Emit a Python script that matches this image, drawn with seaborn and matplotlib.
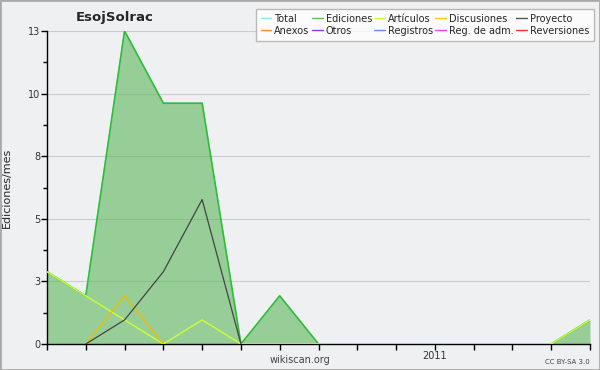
import numpy as np
import pandas as pd
import seaborn as sns
import matplotlib.pyplot as plt
from matplotlib.lines import Line2D

# monthly edits, Mar 2010 .. May 2011
months = list(range(15))
total = [3, 2, 13, 10, 10, 0, 2, 0, 0, 0, 0, 0, 0, 0, 1]
ediciones = [3, 2, 13, 10, 10, 0, 2, 0, 0, 0, 0, 0, 0, 0, 1]
articulos = [3, 2, 1, 0, 1, 0, 0, 0, 0, 0, 0, 0, 0, 0, 1]
discusiones = [np.nan, 0, 2, 0, np.nan, np.nan, np.nan, np.nan, np.nan, np.nan, np.nan, np.nan, np.nan, np.nan, np.nan]
proyecto = [np.nan, 0, 1, 3, 6, 0, np.nan, np.nan, np.nan, np.nan, np.nan, np.nan, np.nan, np.nan, np.nan]

yticks = [0, 2.6, 5.2, 7.8, 10.4, 13]
ytick_labels = ["0", "3", "5", "8", "10", "13"]

legend_names = ["Total", "Ediciones", "Artículos", "Discusiones", "Proyecto",
                "Anexos", "Otros", "Registros", "Reg. de adm.", "Reversiones"]
legend_colors = ["#88e8e8", "#5cc05c", "#ccff33", "#ffcc11", "#555555",
                 "#ff8833", "#9933ee", "#6688ff", "#ee44ee", "#ff3333"]

bg = "#eff0f2"
sns.set_style("white")
plt.rcParams['font.family'] = ['DejaVu Sans']

fig = plt.figure(figsize=(6, 3.7), dpi=100, facecolor=bg)
ax = fig.add_axes([47/600, 26/370, 543/600, 313/370])
ax.set_facecolor(bg)

df = pd.DataFrame({"mes": months, "total": total, "ediciones": ediciones,
                   "articulos": articulos, "discusiones": discusiones, "proyecto": proyecto})

ax.fill_between(df["mes"], 0, df["ediciones"], color="#5cb85c", alpha=0.6, lw=0, zorder=1)
sns.lineplot(data=df, x="mes", y="total", color=legend_colors[0], lw=1, ax=ax, zorder=2)
sns.lineplot(data=df, x="mes", y="ediciones", color="#33bb33", lw=1.2, ax=ax, zorder=3)
sns.lineplot(data=df, x="mes", y="articulos", color=legend_colors[2], lw=1, ax=ax, zorder=4)
sns.lineplot(data=df, x="mes", y="discusiones", color="#eebb00", lw=1, ax=ax, zorder=5)
sns.lineplot(data=df, x="mes", y="proyecto", color="#444444", lw=0.9, ax=ax, zorder=6)

ax.set_xlim(0, 14)
ax.set_ylim(0, 13)
ax.set_yticks(yticks)
ax.set_yticklabels(ytick_labels, fontsize=7, color="#333333")
ax.set_yticks([1.3, 3.9, 6.5, 9.1, 11.7], minor=True)
ax.set_xticks(months)
ax.set_xticklabels(["2011" if m == 10 else "" for m in months], fontsize=7, color="#333333")
ax.tick_params(axis="both", which="both", direction="out", length=4, width=1, color="black",
               pad=1, bottom=True, left=True)
ax.tick_params(axis="y", which="minor", length=3)
ax.grid(axis="y", color="#cccccc", lw=0.8, zorder=0)
ax.set_axisbelow(True)
for s in ["top", "right"]:
    ax.spines[s].set_visible(False)
for s in ["left", "bottom"]:
    ax.spines[s].set_color("black")
    ax.spines[s].set_linewidth(1)
ax.set_xlabel("")
ax.set_ylabel("Ediciones/mes", fontsize=8)
ax.yaxis.set_label_coords(-35/543, 0.5)

fig.text(115/600, 1 - 17/370, "EsojSolrac", fontsize=9.5, fontweight="bold", ha="center", va="center")
fig.text(300/600, 1 - 360/370, "wikiscan.org", fontsize=7, color="#444444", ha="center", va="center")
fig.text(590/600, 1 - 362/370, "CC BY-SA 3.0", fontsize=5, color="#444444", ha="right", va="center")

handles = [Line2D([0], [0], color=c, lw=1) for c in legend_colors]
order = [0, 5, 1, 6, 2, 7, 3, 8, 4, 9]
leg = fig.legend([handles[i] for i in order], [legend_names[i] for i in order],
                 ncol=5, loc="upper right", bbox_to_anchor=(594/600, 1 - 9/370),
                 fontsize=7, frameon=True, fancybox=False, handlelength=1.1,
                 handletextpad=0.3, columnspacing=0.25, labelspacing=0.2,
                 borderpad=0.5, borderaxespad=0)
leg.get_frame().set_edgecolor("#aaaaaa")
leg.get_frame().set_facecolor("white")

fig.patches.append(plt.Rectangle((0, 0), 1, 1, transform=fig.transFigure, fill=False,
                                 edgecolor="#aaaaaa", lw=2))
fig.savefig("out.png", dpi=100, facecolor=bg)
